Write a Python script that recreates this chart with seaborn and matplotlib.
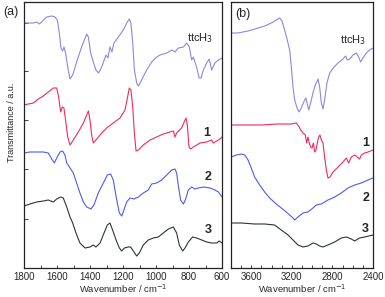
import matplotlib
matplotlib.use("Agg")
import matplotlib.pyplot as plt
import seaborn as sns
from matplotlib.ticker import MultipleLocator

# Panel (a): 1800-600 cm-1
wn_a_ttc = [1800, 1774, 1743, 1723, 1707, 1693, 1663, 1632, 1612, 1598, 1586, 1576, 1566, 1558, 1548, 1535,
            1521, 1505, 1481, 1451, 1420, 1410, 1396, 1380, 1364, 1348, 1329, 1303, 1291, 1279, 1267, 1255,
            1228, 1198, 1174, 1162, 1152, 1141, 1131, 1117, 1107, 1087, 1057, 1026, 996, 976, 935, 905, 885,
            865, 834, 814, 798, 784, 774, 764, 754, 739, 727, 713, 693, 677, 663, 657, 643, 622, 600]
t_a_ttc = [245, 245, 245, 246, 244, 246, 251, 252, 251, 248, 235, 220, 217, 221, 215, 201,
           189, 193, 206, 221, 234, 231, 215, 206, 198, 195, 201, 213, 210, 221, 216, 225,
           231, 238, 246, 249, 245, 225, 198, 185, 182, 188, 198, 206, 211, 213, 215, 218, 216,
           220, 221, 225, 221, 208, 211, 206, 201, 190, 190, 198, 205, 209, 198, 200, 205, 208, 210]

wn_a_1 = [1800, 1774, 1743, 1713, 1683, 1653, 1622, 1602, 1590, 1578, 1568, 1558, 1548, 1535, 1521, 1501,
          1471, 1440, 1420, 1410, 1400, 1390, 1380, 1364, 1329, 1299, 1259, 1218, 1188, 1172, 1162, 1152,
          1141, 1131, 1121, 1107, 1077, 1036, 996, 956, 915, 895, 885, 875, 845, 824, 818, 810, 800, 790,
          774, 733, 693, 663, 653, 632, 612, 600]
t_a_1 = [163, 164, 165, 169, 172, 176, 180, 180, 171, 156, 161, 160, 148, 131, 123, 128,
         136, 145, 153, 157, 148, 133, 125, 128, 135, 140, 145, 150, 158, 171, 180, 178,
         161, 135, 117, 118, 123, 128, 131, 134, 136, 137, 131, 135, 140, 148, 150, 143, 121, 119,
         121, 125, 126, 128, 125, 127, 129, 131]

wn_a_2 = [1800, 1764, 1723, 1683, 1653, 1632, 1616, 1602, 1582, 1566, 1552, 1541, 1521, 1501, 1481, 1461,
          1440, 1420, 1394, 1376, 1350, 1319, 1295, 1275, 1259, 1238, 1222, 1208, 1194, 1178, 1158, 1133,
          1107, 1077, 1047, 1026, 996, 966, 935, 905, 885, 875, 865, 851, 834, 820, 804, 784, 764, 743,
          713, 673, 643, 622, 600]
t_a_2 = [115, 116, 116, 116, 115, 109, 105, 110, 116, 117, 113, 105, 100, 95, 85, 75,
         66, 61, 59, 63, 75, 85, 93, 94, 88, 68, 55, 52, 58, 66, 70, 69,
         71, 75, 78, 84, 85, 88, 93, 98, 99, 95, 83, 68, 64, 69, 78, 81, 79, 80,
         81, 80, 78, 76, 71]

wn_a_3 = [1800, 1764, 1723, 1683, 1653, 1622, 1602, 1578, 1562, 1541, 1521, 1505, 1485, 1461, 1430, 1400,
          1380, 1364, 1339, 1315, 1295, 1279, 1263, 1242, 1222, 1208, 1192, 1168, 1154, 1137, 1117, 1101,
          1077, 1047, 1016, 986, 956, 925, 895, 875, 859, 838, 824, 804, 778, 754, 723, 693, 663, 632,
          618, 600]
t_a_3 = [62, 64, 66, 67, 68, 66, 69, 71, 70, 61, 51, 45, 35, 25, 20, 21,
         23, 21, 25, 35, 43, 45, 38, 28, 20, 17, 20, 21, 21, 17, 12, 15,
         23, 28, 30, 31, 35, 39, 41, 35, 23, 17, 20, 26, 31, 30, 28, 26, 25, 25,
         27, 25]

# Panel (b): 3800-2400 cm-1
wn_b_ttc = [3800, 3731, 3632, 3534, 3468, 3402, 3353, 3320, 3297, 3271, 3245, 3222, 3205, 3189, 3172, 3149,
            3130, 3107, 3087, 3074, 3061, 3048, 3034, 3015, 2992, 2969, 2942, 2926, 2909, 2893, 2877, 2854,
            2827, 2794, 2745, 2696, 2670, 2653, 2630, 2597, 2564, 2541, 2522, 2499, 2466, 2433, 2400]
t_b_ttc = [235, 235, 237, 240, 242, 245, 248, 250, 247, 238, 228, 218, 201, 181, 168, 160,
           156, 160, 165, 168, 170, 164, 158, 165, 175, 183, 189, 181, 165, 159, 168, 185,
           195, 200, 205, 209, 212, 208, 209, 213, 215, 211, 206, 210, 215, 218, 220]

wn_b_1 = [3800, 3665, 3501, 3337, 3205, 3156, 3133, 3113, 3090, 3067, 3054, 3041, 3028, 3015, 3001, 2988,
          2975, 2962, 2949, 2936, 2923, 2909, 2893, 2877, 2860, 2844, 2824, 2794, 2745, 2696, 2663, 2640,
          2614, 2581, 2555, 2532, 2515, 2482, 2449, 2400]
t_b_1 = [143, 143, 143, 144, 144, 145, 142, 138, 135, 133, 125, 131, 125, 121, 120, 125,
         116, 118, 125, 131, 133, 128, 125, 111, 98, 90, 91, 96, 101, 106, 110, 105,
         111, 113, 111, 109, 113, 115, 116, 118]

wn_b_2 = [3800, 3747, 3698, 3665, 3632, 3600, 3567, 3517, 3468, 3419, 3353, 3304, 3255, 3222, 3189, 3172,
          3140, 3090, 3041, 2992, 2959, 2909, 2844, 2778, 2712, 2647, 2581, 2515, 2449, 2400]
t_b_2 = [111, 113, 114, 113, 108, 100, 91, 83, 76, 70, 64, 60, 56, 53, 50, 48,
         51, 55, 56, 60, 63, 64, 68, 71, 75, 80, 83, 85, 88, 90]

wn_b_3 = [3800, 3698, 3567, 3468, 3370, 3304, 3238, 3189, 3140, 3090, 3041, 2992, 2959, 2926, 2893, 2844,
          2778, 2712, 2663, 2614, 2581, 2532, 2482, 2400]
t_b_3 = [45, 45, 44, 44, 43, 38, 33, 28, 23, 21, 22, 25, 24, 22, 21, 23,
         26, 30, 31, 29, 27, 30, 31, 33]

colors = ['#8b87e2', '#f2295c', '#4c5bee', '#2c3436']
names = ['ttcH$_3$', '1', '2', '3']

sns.set_style("ticks")
plt.rcParams['font.family'] = ['Liberation Sans', 'DejaVu Sans']

fig = plt.figure(figsize=(3.85, 2.97), dpi=100)
ax_a = fig.add_axes([24 / 385, 29 / 297, 198 / 385, 266 / 297])
ax_b = fig.add_axes([231 / 385, 29 / 297, 142 / 385, 266 / 297])

series_a = [(wn_a_ttc, t_a_ttc), (wn_a_1, t_a_1), (wn_a_2, t_a_2), (wn_a_3, t_a_3)]
series_b = [(wn_b_ttc, t_b_ttc), (wn_b_1, t_b_1), (wn_b_2, t_b_2), (wn_b_3, t_b_3)]

for (x, y), c in zip(series_a, colors):
    sns.lineplot(x=x, y=y, ax=ax_a, color=c, lw=0.8)
for (x, y), c in zip(series_b, colors):
    sns.lineplot(x=x, y=y, ax=ax_b, color=c, lw=0.8)

ax_a.set_xlim(1800, 600)
ax_b.set_xlim(3800, 2400)
for ax in (ax_a, ax_b):
    ax.set_ylim(0, 266)
    for s in ax.spines.values():
        s.set_linewidth(0.9)
        s.set_color('#222222')
    ax.tick_params(axis='x', direction='in', length=2.5, width=0.6, labelsize=7, pad=3)
    ax.tick_params(axis='x', which='minor', direction='in', length=2.5, width=0.6)
    ax.set_xlabel('Wavenumber / cm$^{-1}$', fontsize=6.8, labelpad=0)

ax_a.xaxis.set_major_locator(MultipleLocator(200))
ax_a.xaxis.set_minor_locator(MultipleLocator(100))
ax_b.set_xticks([3600, 3200, 2800, 2400])
ax_b.xaxis.set_minor_locator(MultipleLocator(100))

ax_a.set_yticks([49, 99, 148, 197, 245])
ax_a.tick_params(axis='y', direction='in', length=3, width=0.6, labelleft=False)
ax_b.set_yticks([])

# curve labels
lab_a = [(733, 230), (691, 135), (685, 91), (685, 38)]
lab_b = [(2597, 228), (2469, 125), (2469, 70), (2475, 39)]
for (x, y), n in zip(lab_a, names):
    ax_a.text(x, y, n, fontsize=8 if n.startswith('ttc') else 9,
              fontweight='normal' if n.startswith('ttc') else 'bold', ha='center', va='center')
for (x, y), n in zip(lab_b, names):
    ax_b.text(x, y, n, fontsize=8 if n.startswith('ttc') else 9,
              fontweight='normal' if n.startswith('ttc') else 'bold', ha='center', va='center')

fig.text(3 / 385, 1 - 12 / 297, '(a)', fontsize=9, ha='left', va='center')
ax_b.text(0.03, 0.955, '(b)', transform=ax_b.transAxes, fontsize=9, ha='left', va='center')
fig.text(12 / 385, 1 - 122 / 297, 'Transmittance / a.u.', fontsize=6.5, rotation=90,
         ha='center', va='center')

fig.savefig('out.png', dpi=100)
